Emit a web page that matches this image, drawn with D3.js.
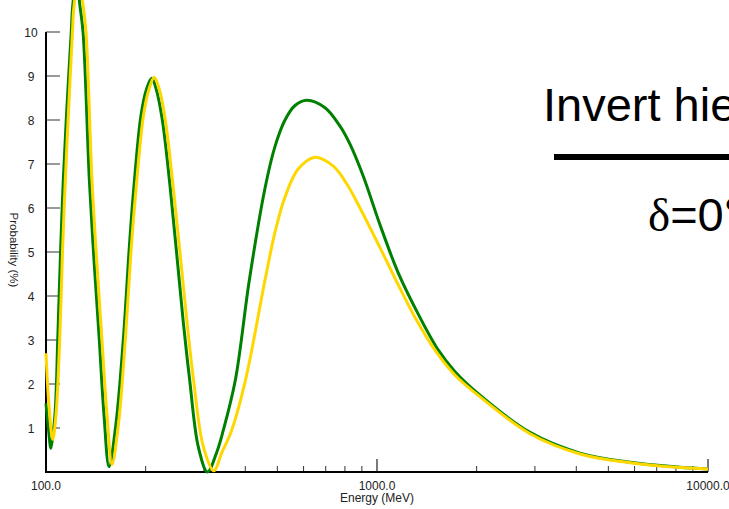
<!DOCTYPE html>
<html>
<head>
<meta charset="utf-8">
<script src="https://cdn.jsdelivr.net/npm/d3@7"></script>
<style>
  html, body { margin: 0; padding: 0; background: #fff; }
  svg { display: block; }
</style>
</head>
<body>
<svg id="chart" width="729" height="509"></svg>
<script>
// Oscillation probability vs. neutrino energy, two curves.
const energyGreen = [100, 101.8, 103.5, 106.5, 108.5, 110.8, 112.8, 115.7, 119.2, 120.4, 123.5, 126.7, 129.4, 135.2, 139.7,
  144.9, 149.7, 155.0, 162.7, 171.2, 178.5, 183.6, 193.6, 201.2, 208.6, 214.9, 224.1, 237.0, 259.9, 271.6,
  288.5, 307.5, 328.0, 343.3, 373.3, 411.4, 458.8, 491.9, 527.3, 565.3, 613.3, 696.6, 773.2,
  828.7, 909.0, 1021, 1160, 1330, 1532, 1721, 2001, 2899, 4105, 5813, 8229, 10000];
const probGreen = [1.56, 0.95, 0.54, 1.34, 3.0, 5.12, 6.64, 8.3, 10.0, 10.58, 11.2, 10.58, 10.0, 6.64, 4.8,
  3.0, 1.3, 0.12, 1.1, 3.0, 5.1, 6.33, 8.1, 8.7, 8.95, 8.72, 8.05, 6.5, 3.4, 2.1,
  0.57, 0.0, 0.45, 0.95, 2.09, 4.36, 6.45, 7.4, 8.0, 8.33, 8.45, 8.28, 7.86,
  7.45, 6.72, 5.62, 4.52, 3.6, 2.77, 2.28, 1.81, 0.9, 0.43, 0.22, 0.11, 0.07];

const energyYellow = [100, 102.1, 104.8, 107.2, 110.0, 112.3, 114.4, 117.3, 120.2, 121.5, 125.4, 129.6, 132.1, 137.7, 142.6,
  147.6, 152.9, 158.3, 165.6, 173.6, 180.6, 186.6, 197.0, 204.7, 212.4, 219.5, 228.8, 242.5, 267.6, 279.1,
  298.7, 321.3, 340.2, 363.9, 400.6, 458.8, 491.9, 527.3, 577.2, 646.6, 737.9, 809.8, 888.3, 1021, 1160,
  1312, 1497, 1721, 2001, 2899, 4105, 5813, 8229, 10000];
const probYellow = [2.7, 1.5, 0.74, 1.3, 3.0, 5.12, 6.64, 8.4, 10.0, 10.58, 11.2, 10.58, 10.0, 6.64, 4.7,
  3.0, 1.3, 0.17, 1.1, 3.0, 5.0, 6.33, 8.1, 8.7, 8.97, 8.72, 8.05, 6.45, 3.3, 2.09,
  0.58, 0.03, 0.45, 0.95, 2.09, 4.36, 5.45, 6.25, 6.88, 7.15, 6.95, 6.55, 6.0, 5.1, 4.25,
  3.47, 2.77, 2.2, 1.77, 0.87, 0.41, 0.21, 0.10, 0.07];

const yTickValues = [1, 2, 3, 4, 5, 6, 7, 8, 9, 10];
const xMajorTicks = [100, 1000, 10000];
const xMajorLabels = ["100.0", "1000.0", "10000.0"];
const xMinorTicks = [200, 300, 400, 500, 600, 700, 800, 900, 2000, 3000, 4000, 5000, 6000, 7000, 8000, 9000];

const svg = d3.select("#chart");
const x = d3.scaleLog().domain([100, 10000]).range([46, 708]);
const y = d3.scaleLinear().domain([0, 10]).range([472, 32]);

const font = "'Liberation Sans', Arial, sans-serif";

// x-axis ticks
svg.append("g").selectAll("line.minor").data(xMinorTicks).join("line")
  .attr("x1", d => x(d)).attr("x2", d => x(d))
  .attr("y1", y(0)).attr("y2", y(0) - 6)
  .attr("stroke", "#333").attr("stroke-width", 1);
svg.append("g").selectAll("line.major").data(xMajorTicks.slice(1)).join("line")
  .attr("x1", d => x(d)).attr("x2", d => x(d))
  .attr("y1", y(0)).attr("y2", y(0) - 13)
  .attr("stroke", "#333").attr("stroke-width", 1.3);

// y-axis ticks
svg.append("g").selectAll("line").data(yTickValues).join("line")
  .attr("x1", x(100)).attr("x2", x(100) + 14)
  .attr("y1", d => y(d)).attr("y2", d => y(d))
  .attr("stroke", "#333").attr("stroke-width", 1);

// axis lines
svg.append("line").attr("x1", x(100)).attr("x2", x(100))
  .attr("y1", y(10)).attr("y2", y(0) + 1)
  .attr("stroke", "#000").attr("stroke-width", 2);
svg.append("line").attr("x1", x(100) - 1).attr("x2", x(10000))
  .attr("y1", y(0)).attr("y2", y(0))
  .attr("stroke", "#000").attr("stroke-width", 2);

// tick labels
svg.append("g").selectAll("text").data(yTickValues).join("text")
  .attr("x", 31).attr("y", d => y(d) + 4.5)
  .attr("text-anchor", "middle")
  .attr("font-family", font).attr("font-size", 12).attr("fill", "#222")
  .text(d => d);
svg.append("g").selectAll("text").data(xMajorTicks).join("text")
  .attr("x", d => x(d)).attr("y", 490)
  .attr("text-anchor", "middle")
  .attr("font-family", font).attr("font-size", 12).attr("fill", "#222")
  .text((d, i) => xMajorLabels[i]);

// axis titles
svg.append("text").attr("x", 377).attr("y", 502)
  .attr("text-anchor", "middle")
  .attr("font-family", font).attr("font-size", 12).attr("fill", "#222")
  .text("Energy (MeV)");
svg.append("text")
  .attr("transform", "translate(9.5,250) rotate(90)")
  .attr("text-anchor", "middle")
  .attr("font-family", font).attr("font-size", 11.5).attr("fill", "#222")
  .text("Probability (%)");

// curves
const line = d3.line().curve(d3.curveCatmullRom.alpha(0.5))
  .x(d => x(d[0])).y(d => y(d[1]));
svg.append("path")
  .attr("d", line(d3.zip(energyGreen, probGreen)))
  .attr("fill", "none").attr("stroke", "#008000").attr("stroke-width", 3)
  .attr("stroke-linejoin", "round");
svg.append("path")
  .attr("d", line(d3.zip(energyYellow, probYellow)))
  .attr("fill", "none").attr("stroke", "#ffd700").attr("stroke-width", 3)
  .attr("stroke-linejoin", "round");

// annotation
svg.append("text").attr("x", 543).attr("y", 121)
  .attr("font-family", font).attr("font-size", 47).attr("fill", "#000")
  .text("Invert hierarchy");
svg.append("line").attr("x1", 554).attr("x2", 760)
  .attr("y1", 157).attr("y2", 157)
  .attr("stroke", "#000").attr("stroke-width", 6);
const delta = svg.append("text").attr("x", 648).attr("y", 231)
  .attr("font-family", font).attr("font-size", 47).attr("fill", "#000");
delta.append("tspan").attr("font-family", "'Liberation Serif', 'Times New Roman', serif").text("δ");
delta.append("tspan").text("=0°");
</script>
</body>
</html>
